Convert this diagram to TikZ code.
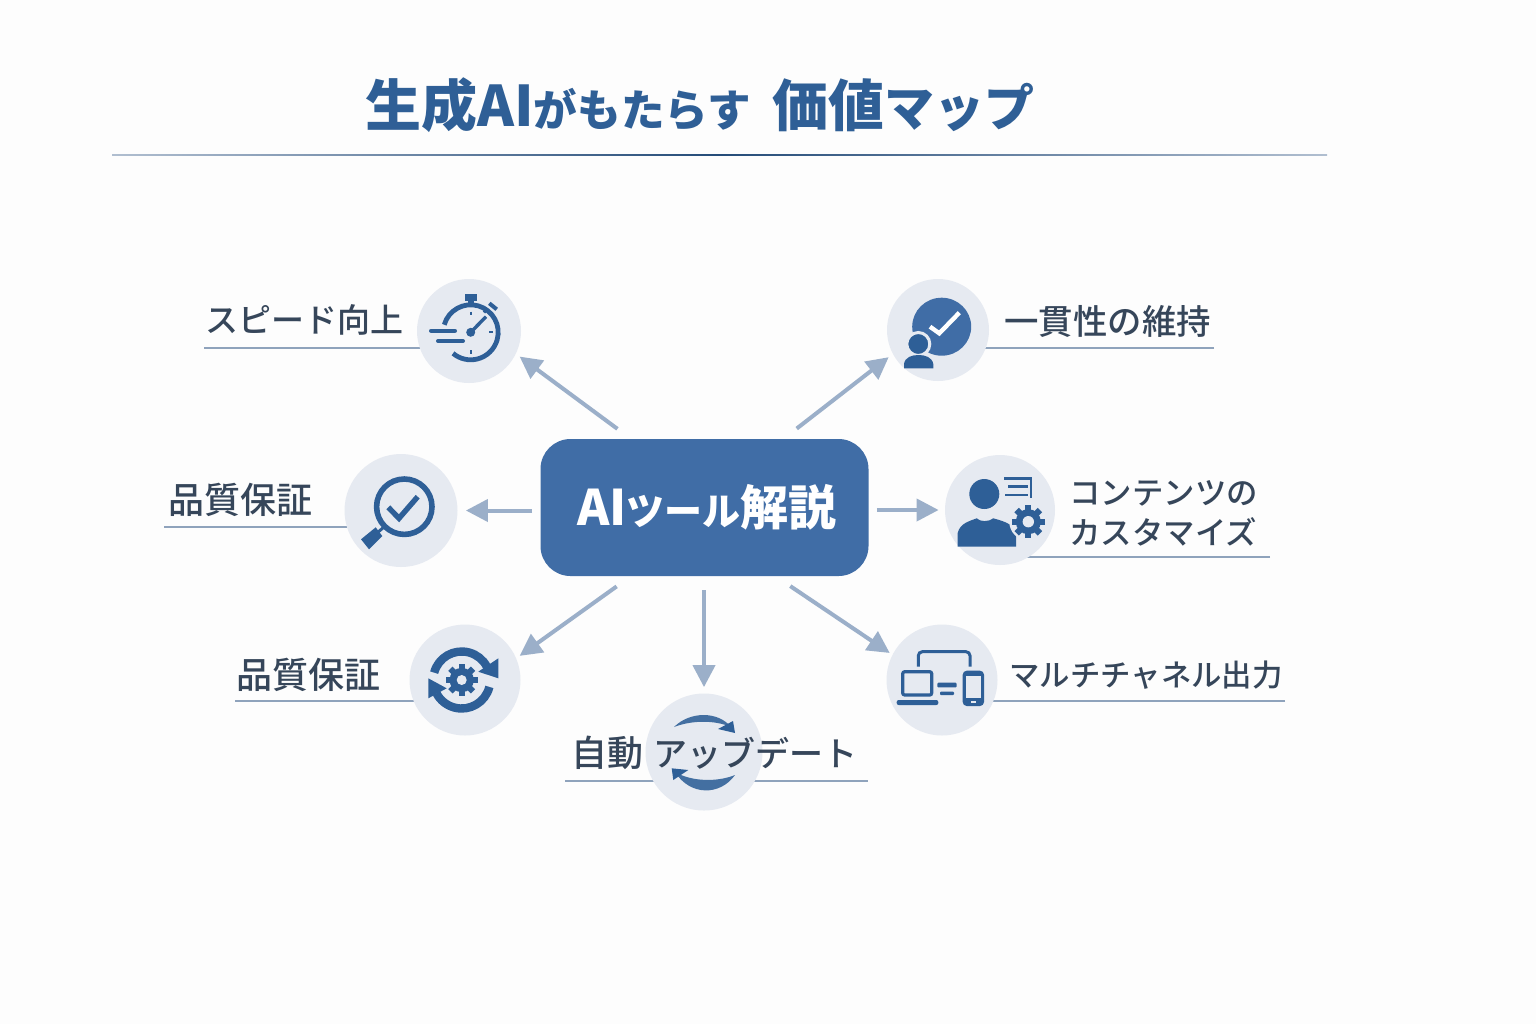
\documentclass[tikz,border=0pt]{standalone}
\usepackage{fontspec}
\setmainfont{Noto Sans CJK JP}
\newfontfamily\labelfont{Noto Sans CJK JP Medium}
\usetikzlibrary{arrows.meta,backgrounds}
\definecolor{paperwhite}{HTML}{FDFDFD}
\definecolor{titleblue}{HTML}{2F5F96}
\definecolor{hubblue}{HTML}{406DA6}
\definecolor{iconblue}{HTML}{2E5F97}
\definecolor{badgegray}{HTML}{E6EAF1}
\definecolor{arrowgray}{HTML}{9BAFC9}
\definecolor{rulegray}{HTML}{8FA3BC}
\definecolor{labelink}{HTML}{36465A}
\tikzset{
    badge/.style={circle, fill=badgegray, inner sep=0pt, minimum size=#1},
    valuelabel/.style={anchor=west, inner sep=0pt, text=labelink, font=\labelfont\fontsize{#1}{#1}\selectfont},
    valuearrow/.style={draw=arrowgray, line width=2pt, -{Triangle[length=11pt,width=11pt]}},
    labelrule/.style={draw=rulegray, line width=0.6pt},
    iconline/.style={draw=iconblue, line width=#1},
    iconline/.default=1.5pt,
}
% gear: centre x, centre y, outer radius, hole radius
\newcommand{\gearicon}[4]{
    \begin{scope}[shift={(#1,#2)}]
        \fill[iconblue] (0,0) circle (0.76*#3);
        \foreach \a in {0,45,...,315}
            \draw[iconblue, line width=0.19*#3 pt] (\a:0.6*#3) -- (\a:#3);
        \fill[badgegray] (0,0) circle (#4);
    \end{scope}
}
\begin{document}
\begin{tikzpicture}[x=0.5pt, y=-0.5pt]
    \useasboundingbox (0,0) rectangle (1536,1024);

    % Central node and the value badges
    \node[rectangle, rounded corners=15pt, fill=hubblue, inner sep=0pt, minimum width=164pt, minimum height=68.5pt] (hub) at (704.5,507.5) {};
    \node[badge=52pt] (speed) at (469,331) {};
    \node[badge=51pt] (keep) at (938,330) {};
    \node[badge=56.5pt] (check) at (401,510.5) {};
    \node[badge=55pt] (custom) at (1000,510) {};
    \node[badge=55.5pt] (gearcycle) at (465,680) {};
    \node[badge=55.5pt] (multi) at (942,680) {};
    \node[badge=58.5pt] (update) at (704,752) {};

    % Free ends of the label rules
    \coordinate (speedrule) at (204,348);
    \coordinate (keeprule) at (1214,348);
    \coordinate (checkrule) at (164,527);
    \coordinate (customrule) at (1270,557);
    \coordinate (gearrule) at (235,701);
    \coordinate (multirule) at (1285,701);
    \coordinate (updateleft) at (565,781);
    \coordinate (updateright) at (868,781);

    \begin{scope}[on background layer]
        \fill[paperwhite] (0,0) rectangle (1536,1024);
        \draw[labelrule] (speedrule) -- (speedrule -| speed);
        \draw[labelrule] (keeprule) -- (keeprule -| keep);
        \draw[labelrule] (checkrule) -- (checkrule -| check);
        \draw[labelrule] (customrule) -- (customrule -| custom);
        \draw[labelrule] (gearrule) -- (gearrule -| gearcycle);
        \draw[labelrule] (multirule) -- (multirule -| multi);
        \draw[labelrule] (updateleft) -- (updateright);
    \end{scope}

    % Title
    \node[anchor=west, inner sep=0pt, text=titleblue, font=\bfseries] (title) at (365,105) {%
        \fontsize{28}{30}\selectfont 生成AI\fontsize{21.8}{30}\selectfont がもたらす\hspace{10.5pt}\fontsize{28}{30}\selectfont 価値\fontsize{25}{30}\selectfont マップ};
    \fill[left color=rulegray!70, right color=rulegray!70, middle color=iconblue!80!black] (112,154.2) rectangle (1327,155.8);

    % Hub text
    \node[text=white, font=\bfseries, inner sep=0pt] (hubtext) at (707,507) {%
        \fontsize{24.5}{30}\selectfont AI\fontsize{19}{30}\selectfont ツール\fontsize{24}{30}\selectfont 解説};

    % Arrows (Hub -> Badge)
    \draw[valuearrow, shorten <=8.2pt, shorten >=2.2pt] (hub.137.6) -- (speed.334.8);
    \draw[valuearrow, shorten <=8.2pt, shorten >=2.5pt] (hub.41.7) -- (keep.208.9);
    \draw[valuearrow, shorten <=4pt, shorten >=4pt] (hub.west |- check) -- (check);
    \draw[valuearrow, shorten <=4pt, shorten >=3pt] (hub.east |- custom) -- (custom);
    \draw[valuearrow, shorten <=8.6pt, shorten >=2pt] (hub.223) -- (gearcycle.23.6);
    \draw[valuearrow, shorten <=8.7pt, shorten >=1.5pt] (hub.316.8) -- (multi.153.9);
    \draw[valuearrow, shorten <=7pt, shorten >=3pt] (update |- hub.south) -- (update);

    % Stopwatch icon
    \draw[iconline=2.4pt] (470.7,332.3) ++(196:27.5) arc (196:490:27.5);
    \fill[iconblue] (465,294) rectangle (477.3,300.7);
    \fill[iconblue] (468.3,300) rectangle (474,304);
    \draw[iconline=2pt] (489.3,303.3) -- (496.7,309.3);
    \draw[iconline=1.5pt] (487,309) -- (484,312.5);
    \draw[iconline=1.7pt] (470.7,332.3) -- (486,316.7);
    \fill[iconblue] (470.7,332.3) circle (4.5);
    \draw[iconline=1pt] (470.7,311.7) -- (470.7,315);
    \draw[iconline=1pt] (489.3,332.3) -- (492.7,332.3);
    \draw[iconline=1pt] (470.7,350) -- (470.7,353.5);
    \draw[iconline=2pt, line cap=round] (431,330.7) -- (455,330.7);
    \draw[iconline=2pt, line cap=round] (438,341) -- (463,341);

    % Bubble with person icon
    \fill[hubblue] (941.7,326.7) ellipse (29.5 and 29);
    \draw[white, line width=2.2pt] (930,326.7) -- (939.3,333.3) -- (959.3,312.7);
    \fill[iconblue, draw=badgegray, line width=1.5pt] (918.3,344) circle (11.5);
    \fill[iconblue] (904,368.3) -- (904,364) .. controls (905,357) and (912,355) .. (918.6,355) .. controls (925,355) and (932,357) .. (933.3,364) -- (933.3,368.3) -- cycle;

    % Magnifier icon
    \draw[iconline=2.8pt] (404.3,506.7) circle (27.7);
    \draw[iconline=2.7pt] (388.3,507.3) -- (399,518.3) -- (417.7,496.7);
    \fill[iconblue] (361,539.3) -- (375.7,527.3) -- (382.3,536) -- (369,549.3) -- cycle;
    \draw[iconline=1.5pt] (384,527) -- (377,533);

    % Person with gear icon
    \fill[iconblue] (984.3,494) circle (15);
    \fill[iconblue] (957.7,546.7) -- (957.7,533) .. controls (960,523) and (970,521) .. (976.7,518.3) .. controls (980,522) and (989,522) .. (993.3,518.3) .. controls (1003,521) and (1014,524) .. (1016,533) -- (1016,546.7) -- cycle;
    \fill[badgegray] (1028.3,521.7) circle (19);
    \gearicon{1028.3}{521.7}{16.5}{5.7}
    \draw[iconline=1.3pt] (1004,478.3) -- (1031,478.3) -- (1031,498);
    \draw[iconline=1.3pt] (1008,486.7) -- (1028,486.7);
    \draw[iconline=1.3pt] (1005,495) -- (1028,495);

    % Gear with arrows icon
    \gearicon{461.7}{680}{16}{5}
    \draw[iconline=4.2pt] (461.7,680) ++(195:28.5) arc (195:332:28.5);
    \fill[iconblue] (498.3,658.3) -- (478.3,671.7) -- (498.3,678.3) -- cycle;
    \draw[iconline=4.2pt] (461.7,680) ++(14:28.5) arc (14:152:28.5);
    \fill[iconblue] (428.3,678.3) -- (428.3,698.3) -- (446.7,688.3) -- cycle;

    % Devices icon
    \draw[iconline=1.5pt, rounded corners=2pt] (918.3,666.7) -- (918.3,651.7) -- (970,651.7) -- (970,666.7);
    \draw[iconline=1.6pt, rounded corners=1pt] (902.7,671.7) rectangle (931.7,695);
    \fill[iconblue, rounded corners=1pt] (896.7,700) rectangle (938.3,705);
    \fill[iconblue, rounded corners=0.5pt] (937.3,682.7) rectangle (956.7,687.3);
    \fill[iconblue, rounded corners=0.5pt] (940,691.7) rectangle (954,695);
    \fill[iconblue, rounded corners=2pt] (962.7,670.7) rectangle (984,706);
    \fill[badgegray] (966,676) rectangle (981,698.3);
    \fill[badgegray] (971,701) rectangle (976,703);

    % Update arrows icon
    \fill[iconblue!90!white] (674,727) .. controls (690,711) and (718,711) .. (731,727) .. controls (715,720) and (692,720) .. cycle;
    \fill[iconblue] (733,721) -- (735,733) -- (718,729) -- cycle;
    \fill[iconblue!90!white] (735,775) .. controls (720,796) and (690,796) .. (675,772) .. controls (692,782) and (718,782) .. cycle;
    \fill[iconblue] (671.7,768.3) -- (673.3,780) -- (688.3,770) -- cycle;

    % Labels
    \node[valuelabel=16.5] (speedtext) at (205,320) {スピード向上};
    \node[valuelabel=17.2] (keeptext) at (1004,321) {一貫性の維持};
    \node[valuelabel=18] (checktext) at (168,500) {品質保証};
    \node[valuelabel=15.7, align=left] (customtext) at (1069,513) {コンテンツの\\[4.3pt]カスタマイズ};
    \node[valuelabel=18] (geartext) at (236,675) {品質保証};
    \node[valuelabel=15.2] (multitext) at (1009,675) {マルチチャネル出力};
    \node[valuelabel=18] (updatetext) at (571,753) {自動\hspace{5pt}\fontsize{17}{17}\selectfont アッブデート};
\end{tikzpicture}
\end{document}
